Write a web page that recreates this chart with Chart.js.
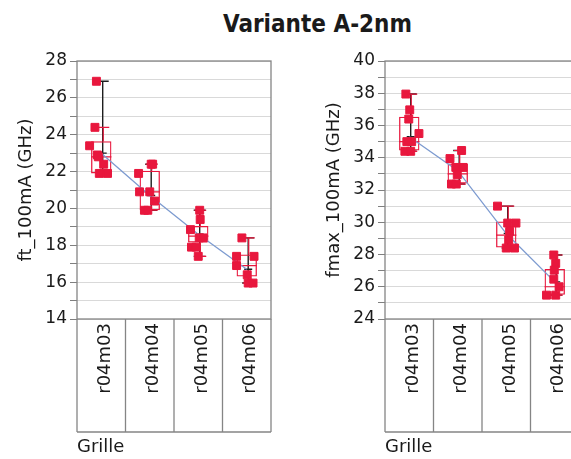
<!DOCTYPE html>
<html>
<head>
<meta charset="utf-8">
<script src="https://cdn.jsdelivr.net/npm/chart.js@4.4.1/dist/chart.umd.min.js"></script>
<style>
  html, body { margin: 0; padding: 0; background: #fff; overflow: hidden; }
  #wrap { position: relative; width: 571px; height: 459px; overflow: hidden; }
  #title { position: absolute; left: 0; width: 635px; top: 10px; line-height: 24px; text-align: center;
           font: bold 24px "DejaVu Sans Condensed", "DejaVu Sans", sans-serif; color: #1a1a1a; }
  canvas { position: absolute; top: 0; }
</style>
</head>
<body>
<div id="wrap">
  <div id="title">Variante A-2nm</div>
  <canvas id="ft" width="290" height="459" style="left:0px"></canvas>
  <canvas id="fmax" width="290" height="459" style="left:308px"></canvas>
</div>
<script>
// categories (Grille)
const categories = ['r04m03', 'r04m04', 'r04m05', 'r04m06'];

// ft_100mA (GHz) - individual measurements per grille
const ftPoints = [
  [26.9, 24.4, 23.4, 22.9, 22.8, 22.4, 21.9, 21.9],
  [22.4, 22.4, 21.9, 20.9, 20.9, 20.4, 19.9, 19.9],
  [19.9, 19.4, 18.85, 18.4, 18.4, 17.9, 17.9, 17.4],
  [18.4, 17.4, 17.4, 16.9, 16.4, 15.95, 15.95]
];
const ftQ1 = [21.9, 19.9, 18.15, 16.3];
const ftMedian = [22.8, 20.9, 18.5, 16.9];
const ftQ3 = [23.65, 22.05, 19.05, 17.5];
const ftWhiskerLo = [21.9, 19.9, 17.4, 15.95];
const ftWhiskerHi = [24.4, 22.4, 19.9, 18.4];
const ftMeans = [23.0, 20.7, 18.6, 16.7];

// fmax_100mA (GHz)
const fmaxPoints = [
  [37.95, 36.97, 36.4, 35.5, 35.0, 35.0, 34.4, 34.4],
  [33.95, 34.45, 33.4, 33.4, 32.95, 32.37, 32.37],
  [31.0, 29.95, 29.95, 29.43, 28.9, 28.4, 28.4],
  [27.97, 27.45, 27.03, 26.47, 26.0, 25.48, 25.48]
];
const fmaxQ1 = [34.45, 32.4, 28.43, 25.5];
const fmaxMedian = [35.0, 33.0, 29.2, 26.0];
const fmaxQ3 = [36.55, 33.65, 30.05, 27.1];
const fmaxWhiskerLo = [34.4, 32.37, 28.4, 25.48];
const fmaxWhiskerHi = [37.95, 34.45, 31.0, 27.97];
const fmaxMeans = [35.3, 33.2, 29.3, 26.3];

// horizontal jitter of the points inside each grille column (fraction of a column)
const ftJitter = [
  [-0.10, -0.13, -0.24, -0.08, -0.06, 0.05, -0.04, 0.13],
  [0.03, 0.06, -0.23, -0.21, 0.0, 0.10, -0.11, -0.04],
  [0.03, 0.04, -0.16, 0.02, 0.10, -0.14, -0.04, 0.0],
  [-0.10, -0.21, 0.15, -0.21, 0.01, 0.03, 0.13]
];
const fmaxJitter = [
  [-0.07, 0.01, -0.01, 0.20, 0.05, -0.05, -0.09, 0.03],
  [-0.16, 0.08, -0.04, 0.11, -0.01, -0.13, -0.03],
  [-0.18, 0.03, 0.20, 0.07, 0.05, 0.0, 0.17],
  [-0.02, 0.02, -0.01, -0.02, 0.09, -0.17, 0.02]
];

const RED = '#e8173d';
const FONT = '"DejaVu Sans", sans-serif';
const TXT = '#1a1a1a';

// draws whiskers, medians, range bars, mean ticks, plot frame and the label grid
const variabilityPlugin = {
  id: 'variability',
  beforeDatasetsDraw(chart, args, o) {
    const { ctx, scales: { x, y } } = chart;
    const w = x.getPixelForValue(1) - x.getPixelForValue(0);
    ctx.save();
    for (let i = 0; i < categories.length; i++) {
      const cx = x.getPixelForValue(i);
      const pts = o.points[i];
      const lo = Math.min(...pts), hi = Math.max(...pts);
      // black range bar (min-max) with mean tick
      const bx = cx + 0.03 * w;
      ctx.strokeStyle = '#1e1e1e';
      ctx.lineWidth = 1.4;
      ctx.beginPath();
      ctx.moveTo(bx, y.getPixelForValue(hi));
      ctx.lineTo(bx, y.getPixelForValue(lo));
      ctx.moveTo(bx - 6, y.getPixelForValue(hi));
      ctx.lineTo(bx + 6, y.getPixelForValue(hi));
      ctx.moveTo(bx - 6, y.getPixelForValue(lo));
      ctx.lineTo(bx + 6, y.getPixelForValue(lo));
      ctx.moveTo(bx - 4, y.getPixelForValue(o.means[i]));
      ctx.lineTo(bx + 4, y.getPixelForValue(o.means[i]));
      ctx.stroke();
      // red whiskers and median
      const half = 0.21 * w;
      ctx.strokeStyle = RED;
      ctx.lineWidth = 1.2;
      ctx.beginPath();
      ctx.moveTo(cx + 2, y.getPixelForValue(o.q3[i]));
      ctx.lineTo(cx + 2, y.getPixelForValue(o.whiskerHi[i]));
      ctx.moveTo(cx - 4, y.getPixelForValue(o.whiskerHi[i]));
      ctx.lineTo(cx + 8, y.getPixelForValue(o.whiskerHi[i]));
      ctx.moveTo(cx + 2, y.getPixelForValue(o.q1[i]));
      ctx.lineTo(cx + 2, y.getPixelForValue(o.whiskerLo[i]));
      ctx.moveTo(cx - 4, y.getPixelForValue(o.whiskerLo[i]));
      ctx.lineTo(cx + 8, y.getPixelForValue(o.whiskerLo[i]));
      ctx.moveTo(cx - half, y.getPixelForValue(o.median[i]));
      ctx.lineTo(cx + half, y.getPixelForValue(o.median[i]));
      ctx.stroke();
    }
    ctx.restore();
  },
  afterDraw(chart) {
    const { ctx, chartArea: a, scales: { x } } = chart;
    const bottom = a.bottom + 113;
    ctx.save();
    ctx.strokeStyle = '#858585';
    ctx.lineWidth = 1.3;
    ctx.strokeRect(a.left, a.top, a.right - a.left, a.bottom - a.top);
    ctx.beginPath();
    for (let k = 0; k <= categories.length; k++) {
      const px = x.getPixelForValue(k - 0.5);
      ctx.moveTo(px, a.bottom);
      ctx.lineTo(px, bottom);
    }
    ctx.moveTo(a.left, bottom);
    ctx.lineTo(a.right, bottom);
    ctx.stroke();
    ctx.restore();
  }
};

function makePanel(id, yTitle, yMin, yMax, points, jitter, q1, median, q3, wLo, wHi, means) {
  const scatter = [];
  points.forEach((arr, i) => arr.forEach((v, j) => scatter.push({ x: i + jitter[i][j], y: v })));
  return new Chart(document.getElementById(id), {
    type: 'scatter',
    data: {
      datasets: [
        {
          type: 'scatter', data: scatter, order: 0,
          pointStyle: 'rect', pointRadius: 5.6, borderWidth: 1,
          backgroundColor: RED, borderColor: RED
        },
        {
          type: 'line', data: means.map((m, i) => ({ x: i, y: m })), order: 1,
          borderColor: '#7d9bd0', borderWidth: 1.3, pointRadius: 0, tension: 0
        },
        {
          type: 'bar', data: q1.map((v, i) => ({ x: i, y: [v, q3[i]] })), order: 2,
          backgroundColor: 'rgba(0,0,0,0)', borderColor: RED, borderWidth: 1.3,
          borderSkipped: false, grouped: false, barPercentage: 0.42, categoryPercentage: 1
        }
      ]
    },
    options: {
      responsive: false,
      animation: false,
      devicePixelRatio: 1,
      layout: { padding: { left: 0, right: 19, top: 61, bottom: 0 } },
      plugins: {
        legend: { display: false },
        tooltip: { enabled: false },
        variability: { points, q1, median, q3, whiskerLo: wLo, whiskerHi: wHi, means }
      },
      scales: {
        x: {
          type: 'linear', min: -0.5, max: 3.5, offset: false,
          afterFit(s) { s.height = 140; },
          afterBuildTicks(s) { s.ticks = categories.map((c, i) => ({ value: i })); },
          grid: { drawOnChartArea: false, drawTicks: false },
          border: { display: false },
          ticks: {
            minRotation: 90, maxRotation: 90, autoSkip: false, padding: 4, labelOffset: 4,
            color: TXT, font: { family: FONT, size: 18 },
            callback: v => categories[v]
          },
          title: {
            display: true, text: 'Grille', align: 'start', color: TXT,
            padding: { top: 0, bottom: 1 }, font: { family: FONT, size: 18 }
          }
        },
        y: {
          min: yMin, max: yMax,
          afterFit(s) { s.width = 77; },
          ticks: {
            stepSize: 1, autoSkip: false, padding: 3, color: TXT,
            font: { family: FONT, size: 17 },
            callback: v => (v % 2 === 0 ? v : '')
          },
          grid: { color: '#d9d9d9', tickColor: '#7f7f7f', tickLength: 7 },
          border: { display: false },
          title: {
            display: true, text: yTitle, color: TXT,
            padding: { top: 16, bottom: 0 }, font: { family: FONT, size: 18 }
          }
        }
      }
    },
    plugins: [variabilityPlugin]
  });
}

makePanel('ft', 'ft_100mA (GHz)', 14, 28, ftPoints, ftJitter,
  ftQ1, ftMedian, ftQ3, ftWhiskerLo, ftWhiskerHi, ftMeans);
makePanel('fmax', 'fmax_100mA (GHz)', 24, 40, fmaxPoints, fmaxJitter,
  fmaxQ1, fmaxMedian, fmaxQ3, fmaxWhiskerLo, fmaxWhiskerHi, fmaxMeans);
</script>
</body>
</html>
